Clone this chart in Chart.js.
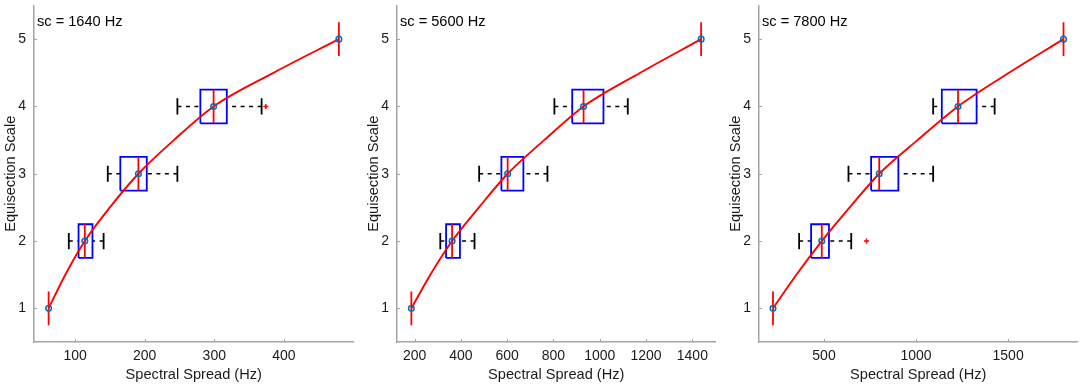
<!DOCTYPE html>
<html>
<head>
<meta charset="utf-8">
<script src="https://cdn.jsdelivr.net/npm/chart.js@4/dist/chart.umd.min.js"></script>
<style>
  html, body { margin: 0; padding: 0; background: #fff; overflow: hidden; }
  #wrap { position: relative; width: 1084px; height: 387px; background: #fff; }
  .panel { position: absolute; top: 0; height: 387px; }
  .note { position: absolute; top: 12.9px; font-family: "Liberation Sans", Arial, sans-serif; font-size: 14.6px; line-height: 17px; color: #000; white-space: nowrap; }
</style>
</head>
<body>
<div id="wrap"></div>
<script>
// ---------- data ----------
const levels = [1, 2, 3, 4, 5];
const yTicks = [1, 2, 3, 4, 5];
const curveY = [1, 1.5, 2, 2.5, 3, 3.5, 4, 4.5, 5];

// Panel 1 : sc = 1640 Hz
const p1Title = 'sc = 1640 Hz';
const p1XTicks = [100, 200, 300, 400];
const p1Median = [62, 114, 191, 299, 479];
const p1Q1 = [62, 105, 165, 280, 479];
const p1Q3 = [62, 125, 203, 318, 479];
const p1WhiskLo = [null, 91, 147, 247, null];
const p1WhiskHi = [null, 141, 247, 368, null];
const p1OutX = [374];
const p1OutY = [4];
const p1CurveX = [62, 86, 114, 150, 191, 242, 299, 385, 479];

// Panel 2 : sc = 5600 Hz
const p2Title = 'sc = 5600 Hz';
const p2XTicks = [200, 400, 600, 800, 1000, 1200, 1400];
const p2Median = [186, 362, 602, 930, 1438];
const p2Q1 = [186, 336, 575, 881, 1438];
const p2Q3 = [186, 396, 670, 1016, 1438];
const p2WhiskLo = [null, 311, 479, 804, null];
const p2WhiskHi = [null, 459, 774, 1121, null];
const p2OutX = [];
const p2OutY = [];
const p2CurveX = [186, 268, 362, 478, 602, 760, 930, 1175, 1438];

// Panel 3 : sc = 7800 Hz
const p3Title = 'sc = 7800 Hz';
const p3XTicks = [500, 1000, 1500];
const p3Median = [223, 488, 800, 1228, 1801];
const p3Q1 = [223, 430, 756, 1140, 1801];
const p3Q3 = [223, 527, 904, 1329, 1801];
const p3WhiskLo = [null, 365, 633, 1093, null];
const p3WhiskHi = [null, 648, 1093, 1427, null];
const p3OutX = [731];
const p3OutY = [2];
const p3CurveX = [223, 350, 488, 640, 800, 1008, 1228, 1505, 1801];

const xTitle = 'Spectral Spread (Hz)';
const yTitle = 'Equisection Scale';

// ---------- layout / style ----------
const FONT = '"Liberation Sans", Arial, sans-serif';
const TXT = '#1a1a1a';
const AXIS = '#a3a3a3';
const BOX_HALF = 0.25;
const CAP_HALF = 0.12;
const Y_AXIS_W = 40;
const PAD_RIGHT = 4;
const PLOT_TOP = 3;
const PLOT_BOTTOM = 342;

const panels = [
  { left: 34,  width: 321, xMin: 41,  xMax: 500,  xTicks: p1XTicks, title: p1Title, med: p1Median, q1: p1Q1, q3: p1Q3, lo: p1WhiskLo, hi: p1WhiskHi, ox: p1OutX, oy: p1OutY, cx: p1CurveX },
  { left: 397, width: 320, xMin: 124, xMax: 1500, xTicks: p2XTicks, title: p2Title, med: p2Median, q1: p2Q1, q3: p2Q3, lo: p2WhiskLo, hi: p2WhiskHi, ox: p2OutX, oy: p2OutY, cx: p2CurveX },
  { left: 759, width: 320, xMin: 147, xMax: 1877, xTicks: p3XTicks, title: p3Title, med: p3Median, q1: p3Q1, q3: p3Q3, lo: p3WhiskLo, hi: p3WhiskHi, ox: p3OutX, oy: p3OutY, cx: p3CurveX }
];

const GAP = { x: null, y: null };

function buildDatasets(p) {
  const boxes = [], meds = [], wh = [], caps = [];
  levels.forEach((lv, i) => {
    if (p.q3[i] > p.q1[i]) {
      boxes.push({x: p.q1[i], y: lv - BOX_HALF}, {x: p.q3[i], y: lv - BOX_HALF},
                 {x: p.q3[i], y: lv + BOX_HALF}, {x: p.q1[i], y: lv + BOX_HALF},
                 {x: p.q1[i], y: lv - BOX_HALF}, GAP);
    }
    meds.push({x: p.med[i], y: lv - BOX_HALF}, {x: p.med[i], y: lv + BOX_HALF}, GAP);
    if (p.lo[i] !== null) {
      wh.push({x: p.lo[i], y: lv}, {x: p.q1[i], y: lv}, GAP);
      caps.push({x: p.lo[i], y: lv - CAP_HALF}, {x: p.lo[i], y: lv + CAP_HALF}, GAP);
    }
    if (p.hi[i] !== null) {
      wh.push({x: p.hi[i], y: lv}, {x: p.q3[i], y: lv}, GAP);
      caps.push({x: p.hi[i], y: lv - CAP_HALF}, {x: p.hi[i], y: lv + CAP_HALF}, GAP);
    }
  });
  const seg = (data, color, width, order, dash) => ({
    type: 'scatter', data, showLine: true, spanGaps: false, pointRadius: 0, pointHoverRadius: 0,
    borderColor: color, borderWidth: width, borderDash: dash || [], fill: false, order, tension: 0
  });
  return [
    {
      type: 'scatter', data: levels.map((lv, i) => ({x: p.med[i], y: lv})),
      pointStyle: 'circle', pointRadius: 2.8, borderColor: '#0072BD', backgroundColor: 'rgba(0,0,0,0)',
      pointBorderWidth: 1.5, showLine: false, order: 0
    },
    {
      type: 'scatter', data: p.ox.map((v, i) => ({x: v, y: p.oy[i]})),
      pointStyle: 'cross', pointRadius: 2.5, borderColor: '#ff0000', pointBorderWidth: 1.5, showLine: false, order: 0
    },
    {
      type: 'line', data: curveY.map((v, i) => ({x: p.cx[i], y: v})),
      borderColor: '#ff0000', borderWidth: 1.9, pointRadius: 0, cubicInterpolationMode: 'monotone', fill: false, order: 1
    },
    seg(meds, '#ff0000', 1.8, 2),
    seg(boxes, '#0000ff', 1.8, 3),
    seg(wh, '#000000', 1.6, 4, [4, 4.5]),
    seg(caps, '#000000', 1.8, 4)
  ];
}

const innerTicks = {
  id: 'innerTicks',
  afterDraw(chart) {
    const {ctx, chartArea, scales} = chart;
    ctx.save();
    ctx.strokeStyle = AXIS;
    ctx.lineWidth = 1;
    ctx.beginPath();
    scales.x.ticks.forEach(t => {
      const px = Math.round(scales.x.getPixelForValue(t.value)) + 0.5;
      ctx.moveTo(px, chartArea.bottom); ctx.lineTo(px, chartArea.bottom - 3);
    });
    scales.y.ticks.forEach(t => {
      const py = Math.round(scales.y.getPixelForValue(t.value)) + 0.5;
      ctx.moveTo(chartArea.left, py); ctx.lineTo(chartArea.left + 3, py);
    });
    ctx.stroke();
    ctx.restore();
  }
};

const wrap = document.getElementById('wrap');
panels.forEach((p) => {
  const div = document.createElement('div');
  div.className = 'panel';
  div.style.left = (p.left - Y_AXIS_W) + 'px';
  div.style.width = (p.width + Y_AXIS_W + PAD_RIGHT) + 'px';
  const cv = document.createElement('canvas');
  div.appendChild(cv);
  wrap.appendChild(div);

  const note = document.createElement('div');
  note.className = 'note';
  note.style.left = (p.left + 3) + 'px';
  note.textContent = p.title;
  wrap.appendChild(note);

  new Chart(cv, {
    data: { datasets: buildDatasets(p) },
    options: {
      responsive: true,
      maintainAspectRatio: false,
      animation: false,
      events: [],
      layout: { padding: { top: PLOT_TOP, right: PAD_RIGHT, left: 0, bottom: 0 } },
      plugins: { legend: { display: false }, tooltip: { enabled: false }, title: { display: false } },
      scales: {
        x: {
          type: 'linear', position: 'bottom', min: p.xMin, max: p.xMax,
          afterBuildTicks: s => { s.ticks = p.xTicks.map(v => ({ value: v })); },
          afterFit: s => { s.height = 387 - PLOT_BOTTOM; s.paddingLeft = 0; s.paddingRight = 0; },
          grid: { display: false, drawTicks: false },
          border: { display: true, color: AXIS, width: 1.5 },
          ticks: { color: TXT, font: { family: FONT, size: 14 }, padding: 6, maxRotation: 0, autoSkip: false, callback: v => String(v) },
          title: { display: true, text: xTitle, color: TXT, font: { family: FONT, size: 14.6 }, padding: { top: 0, bottom: 3 } }
        },
        y: {
          type: 'linear', position: 'left', min: 0.5, max: 5.5,
          afterBuildTicks: s => { s.ticks = yTicks.map(v => ({ value: v })); },
          afterFit: s => { s.width = Y_AXIS_W; s.paddingTop = 0; s.paddingBottom = 0; },
          grid: { display: false, drawTicks: false },
          border: { display: true, color: AXIS, width: 1.5 },
          ticks: { color: TXT, font: { family: FONT, size: 14 }, padding: 8, autoSkip: false, callback: v => String(v) },
          title: { display: true, text: yTitle, color: TXT, font: { family: FONT, size: 14.6 }, padding: { top: 8.5, bottom: 0 } }
        }
      }
    },
    plugins: [innerTicks]
  });
});
</script>
</body>
</html>
